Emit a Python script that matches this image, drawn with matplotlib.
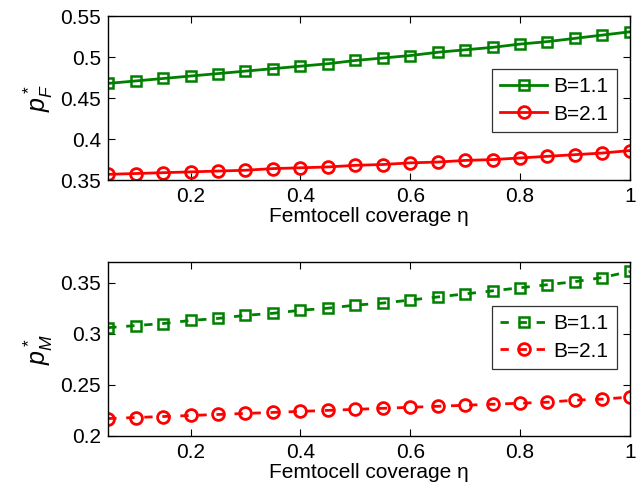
import numpy as np
import matplotlib
matplotlib.use('Agg')
import matplotlib.pyplot as plt

plt.rcParams['font.family'] = ['Liberation Sans', 'DejaVu Sans']
plt.rcParams['mathtext.fontset'] = 'custom'
plt.rcParams['mathtext.it'] = 'Liberation Sans:italic'
plt.rcParams['mathtext.rm'] = 'Liberation Sans'

eta = [0.05, 0.10, 0.15, 0.20, 0.25, 0.30, 0.35, 0.40, 0.45, 0.50,
       0.55, 0.60, 0.65, 0.70, 0.75, 0.80, 0.85, 0.90, 0.95, 1.00]

# femtocell price
pF_b11 = [0.468, 0.471, 0.474, 0.477, 0.480, 0.483, 0.486, 0.489, 0.492, 0.496,
          0.499, 0.502, 0.506, 0.509, 0.512, 0.516, 0.519, 0.523, 0.527, 0.531]
pF_b21 = [0.357, 0.358, 0.359, 0.360, 0.361, 0.362, 0.364, 0.365, 0.366, 0.368,
          0.369, 0.371, 0.372, 0.374, 0.375, 0.377, 0.379, 0.381, 0.383, 0.386]

# macrocell price
pM_b11 = [0.306, 0.308, 0.310, 0.313, 0.315, 0.318, 0.320, 0.323, 0.325, 0.328,
          0.330, 0.333, 0.336, 0.339, 0.342, 0.345, 0.348, 0.351, 0.355, 0.361]
pM_b21 = [0.217, 0.218, 0.219, 0.220, 0.221, 0.222, 0.223, 0.224, 0.225, 0.226,
          0.227, 0.228, 0.229, 0.230, 0.231, 0.232, 0.233, 0.235, 0.236, 0.238]

labels = ['B=1.1', 'B=2.1']
green = '#008000'
red = '#ff0000'

fig = plt.figure(figsize=(6.44, 4.92), dpi=100)
ax1 = fig.add_axes([0.168, 0.634, 0.81, 0.333])
ax2 = fig.add_axes([0.168, 0.114, 0.81, 0.353])


def style(ax):
    ax.tick_params(direction='in', top=True, right=True, labelsize=15, length=5, pad=5)
    for s in ax.spines.values():
        s.set_linewidth(1.0)
    ax.set_xlim(0.05, 1.0)
    ax.set_xticks([0.2, 0.4, 0.6, 0.8, 1.0])
    ax.set_xticklabels(['0.2', '0.4', '0.6', '0.8', '1'])
    ax.set_xlabel('Femtocell coverage \u03b7', fontsize=15, labelpad=1)


def legend(ax, y):
    leg = ax.legend(loc='lower right', bbox_to_anchor=(0.975, y), borderaxespad=0,
                    fontsize=15, fancybox=False, edgecolor='black', handlelength=2.25,
                    borderpad=0.4, labelspacing=0.4, handletextpad=0.3)
    leg.get_frame().set_linewidth(0.9)


ax1.plot(eta, pF_b11, '-s', color=green, lw=2, ms=6.5, mfc='none', mew=1.8, label=labels[0])
ax1.plot(eta, pF_b21, '-o', color=red, lw=2, ms=8.5, mfc='none', mew=2, label=labels[1])
style(ax1)
ax1.set_ylim(0.35, 0.55)
ax1.set_yticks([0.35, 0.4, 0.45, 0.5, 0.55])
ax1.set_yticklabels(['0.35', '0.4', '0.45', '0.5', '0.55'])
ax1.set_ylabel(r'$p^*_F$', fontsize=18, labelpad=4)
legend(ax1, 0.293)

ax2.plot(eta, pM_b11, '--s', color=green, lw=2, ms=6.5, mfc='none', mew=1.8,
         dashes=(3, 3.5), label=labels[0])
ax2.plot(eta, pM_b21, '--o', color=red, lw=2, ms=8.5, mfc='none', mew=2,
         dashes=(3, 3.5), label=labels[1])
style(ax2)
ax2.set_ylim(0.2, 0.37)
ax2.set_yticks([0.2, 0.25, 0.3, 0.35])
ax2.set_yticklabels(['0.2', '0.25', '0.3', '0.35'])
ax2.set_ylabel(r'$p^*_M$', fontsize=18, labelpad=4)
legend(ax2, 0.385)

fig.savefig('out.png', dpi=100)
